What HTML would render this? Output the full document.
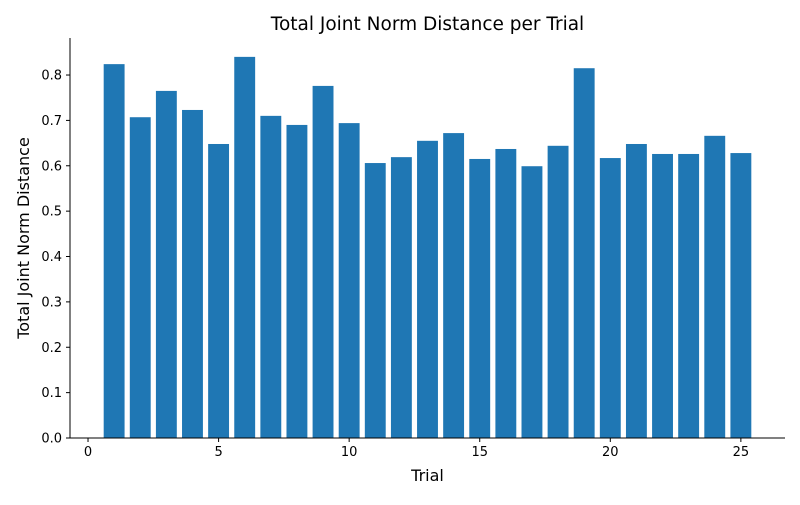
<!DOCTYPE html>
<html><head><meta charset="utf-8"><style>
body{margin:0;background:#fff;}
svg text{font-family:"DejaVu Sans","Liberation Sans",sans-serif;}
</style></head><body>
<svg id="chart" width="800" height="500" xmlns="http://www.w3.org/2000/svg"></svg>
<script>
const trials=[1,2,3,4,5,6,7,8,9,10,11,12,13,14,15,16,17,18,19,20,21,22,23,24,25];
const distances=[0.824,0.707,0.765,0.723,0.648,0.840,0.710,0.690,0.776,0.694,0.606,0.619,0.655,0.672,0.615,0.637,0.599,0.644,0.815,0.617,0.648,0.626,0.626,0.666,0.628];
const xTicks=[0,5,10,15,20,25];
const yTicks=[0.0,0.1,0.2,0.3,0.4,0.5,0.6,0.7,0.8];
const L=70,R=785,T=38,B=438;
const xMin=-0.69,xMax=26.69,yMax=0.8816;
const X=v=>L+(v-xMin)/(xMax-xMin)*(R-L);
const Y=v=>B-v/yMax*(B-T);
const svg=document.getElementById('chart');
const NS='http://www.w3.org/2000/svg';
function mk(tag,attrs,txt){const e=document.createElementNS(NS,tag);for(const k in attrs)e.setAttribute(k,attrs[k]);if(txt!==undefined)e.textContent=txt;svg.appendChild(e);return e;}
trials.forEach((t,i)=>{
  const b=mk('rect',{x:X(t-0.4),y:Y(distances[i]),width:X(t+0.4)-X(t-0.4),height:B-Y(distances[i]),fill:'#1f77b4'});
  
  
});
const ax=mk('path',{d:`M${L},${T}V${B}H${R}`,stroke:'#000','stroke-width':1,fill:'none'});


xTicks.forEach(v=>{
  const x=X(v);
  mk('line',{x1:x,x2:x,y1:B,y2:B+4,stroke:'#000'});
  const t=mk('text',{x:x,y:B+18,'text-anchor':'middle','font-size':13},String(v));
  
  
});
yTicks.forEach(v=>{
  const y=Y(v);
  mk('line',{x1:L-4,x2:L,y1:y,y2:y,stroke:'#000'});
  const t=mk('text',{x:L-8,y:y+4.5,'text-anchor':'end','font-size':13},v.toFixed(1));
  
  
});
const ti=mk('text',{x:(L+R)/2,y:30,'text-anchor':'middle','font-size':18.5},'Total Joint Norm Distance per Trial');


const xl=mk('text',{x:(L+R)/2,y:481,'text-anchor':'middle','font-size':16},'Trial');


const yl=mk('text',{x:0,y:0,'text-anchor':'middle','font-size':16,transform:`translate(29,${(T+B)/2}) rotate(-90)`},'Total Joint Norm Distance');


</script>
</body></html>
